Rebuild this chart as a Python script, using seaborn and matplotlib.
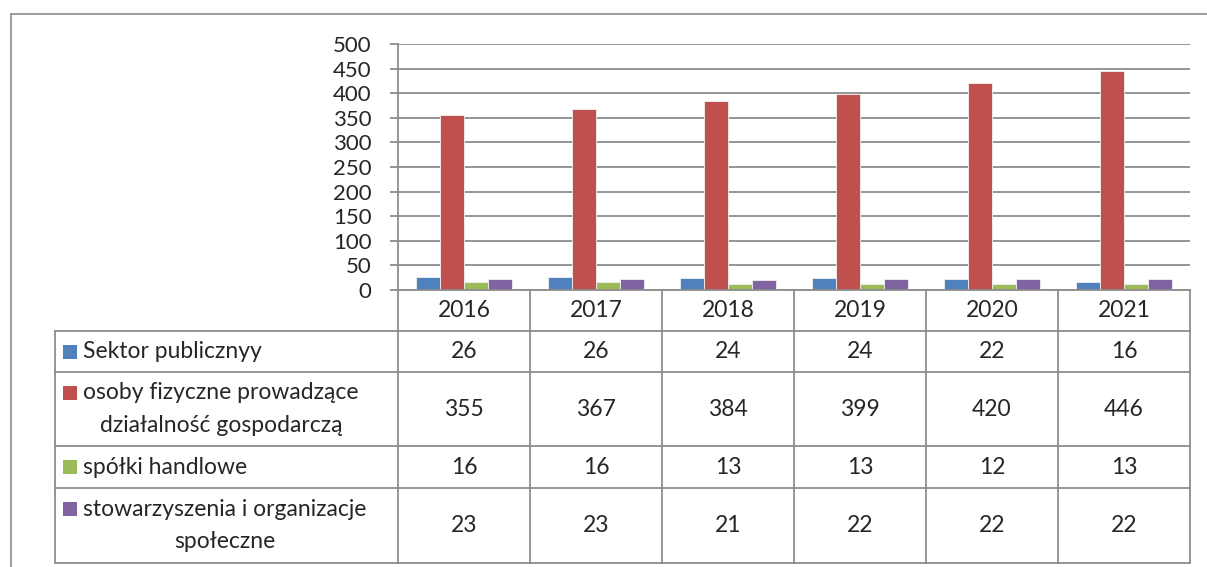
import pandas as pd
import seaborn as sns
import matplotlib.pyplot as plt
from matplotlib.lines import Line2D

# data
years = ["2016", "2017", "2018", "2019", "2020", "2021"]
series = ["Sektor publicznyy",
          "osoby fizyczne prowadzące\ndziałalność gospodarczą",
          "spółki handlowe",
          "stowarzyszenia i organizacje\nspołeczne"]
sektor = [26, 26, 24, 24, 22, 16]
osoby = [355, 367, 384, 399, 420, 446]
spolki = [16, 16, 13, 13, 12, 13]
stowarzyszenia = [23, 23, 21, 22, 22, 22]
colors = ["#4F81BD", "#C0504D", "#9BBB59", "#8064A2"]

values = [sektor, osoby, spolki, stowarzyszenia]
rows = []
for name, vals in zip(series, values):
    for y, v in zip(years, vals):
        rows.append({"year": y, "series": name, "value": v})
df = pd.DataFrame(rows)

sns.set_style("white")
plt.rcParams["font.family"] = ["Lato", "DejaVu Sans"]

W, H = 1207, 567
GRAY = "#8c8c8c"
FS = 16.5


def px_box(left, top, right, bottom):
    return [left / W, 1 - bottom / H, (right - left) / W, (bottom - top) / H]


fig = plt.figure(figsize=(W / 100, H / 100), dpi=100)

# outer frame
fig.add_artist(Line2D([11 / W, 11 / W], [0, 1 - 14 / H], color=GRAY, lw=1.2))
fig.add_artist(Line2D([11 / W, 1], [1 - 14 / H, 1 - 14 / H], color=GRAY, lw=1.2))

# bars
ax = fig.add_axes(px_box(398, 44, 1190, 290))
sns.barplot(data=df, x="year", y="value", hue="series", hue_order=series,
            order=years, palette=colors, saturation=1, width=0.73,
            edgecolor="#f2f2f2", linewidth=0.6, legend=False, ax=ax)
ax.set_xlim(-0.5, len(years) - 0.5)
ax.set_ylim(0, 500)
ax.set_yticks(range(0, 501, 50))
ax.set_xticks([])
ax.set_xlabel("")
ax.set_ylabel("")
ax.yaxis.grid(True, color=GRAY, lw=1.3)
ax.set_axisbelow(True)
for s in ["top", "right"]:
    ax.spines[s].set_visible(False)
for s in ["left", "bottom"]:
    ax.spines[s].set_color(GRAY)
    ax.spines[s].set_linewidth(1.3)
ax.tick_params(axis="y", left=True, direction="out", length=6, width=1.3,
               color=GRAY, labelsize=16, pad=13)

# data table under the axis
col_w = (1190 - 398) / len(years)


def cx(px):
    return -0.5 + (px - 398) / col_w


row_h = [41, 74, 42, 75]
head_h = 41
total_h = head_h + sum(row_h)
tax = fig.add_axes(px_box(55, 290, 1190, 290 + total_h))
tax.set_xlim(cx(55), len(years) - 0.5)
tax.set_ylim(total_h, 0)
tax.axis("off")

lkw = dict(color=GRAY, lw=1.3, clip_on=False)
for i in range(len(years) + 1):
    tax.plot([i - 0.5, i - 0.5], [0, total_h], **lkw)
tax.plot([cx(55), cx(55)], [head_h, total_h], **lkw)
edges = [head_h]
for h in row_h:
    edges.append(edges[-1] + h)
for e in edges:
    tax.plot([cx(55), len(years) - 0.5], [e, e], **lkw)

for i, y in enumerate(years):
    tax.text(i, head_h / 2, y, ha="center", va="center", fontsize=FS)

for r, (name, vals, c) in enumerate(zip(series, values, colors)):
    top = edges[r]
    mid = top + row_h[r] / 2
    two_lines = "\n" in name
    mark_y = top + 21 if two_lines else mid
    tax.plot([cx(70)], [mark_y], marker="s", ms=10.5, color=c, mew=0,
             clip_on=False)
    tax.text(cx(83), mid, name, ha="left", va="center",
             multialignment="center", fontsize=FS, linespacing=1.65)
    for i, v in enumerate(vals):
        tax.text(i, mid, str(v), ha="center", va="center", fontsize=FS)

fig.savefig("out.png", dpi=100)
